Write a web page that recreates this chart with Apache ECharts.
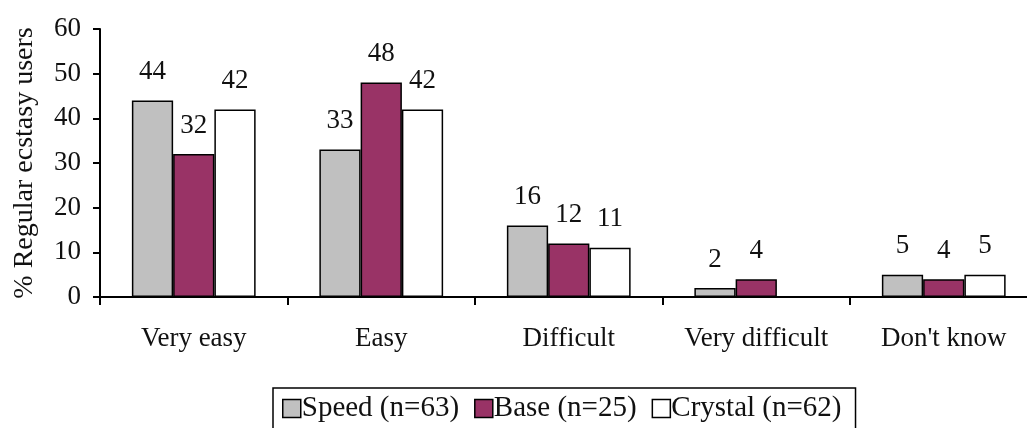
<!DOCTYPE html>
<html><head><meta charset="utf-8">
<script src="https://cdn.jsdelivr.net/npm/echarts@6/dist/echarts.min.js"></script>
<style>html,body{margin:0;padding:0;background:#fff;overflow:hidden}#c{width:1027px;height:428px}</style>
</head><body><div id="c"></div>
<script>
const categories = ["Very easy", "Easy", "Difficult", "Very difficult", "Don't know"];
const speed = [44, 33, 16, 2, 5];
const base = [32, 48, 12, 4, 4];
const crystal = [42, 42, 11, null, 5];
const seriesNames = ["Speed (n=63)", "Base (n=25)", "Crystal (n=62)"];
const FONT = "Liberation Serif";
const FS = 27;
const chart = echarts.init(document.getElementById('c'));
const lbl = {show: true, position: 'top', distance: 15, color: '#111', fontFamily: FONT, fontSize: FS};
const mk = (name, data, color) => ({
  name, type: 'bar', data, barGap: '0%', barCategoryGap: '34%',
  itemStyle: {color, borderColor: '#000', borderWidth: 1.5},
  label: lbl
});
chart.setOption({
  animation: false,
  textStyle: {fontFamily: FONT},
  grid: {left: 100, width: 937.5, top: 29, bottom: 131, outerBoundsMode: 'none', containLabel: false},
  legend: {
    top: 388, left: 273, itemWidth: 18, itemHeight: 18, itemGap: 15,
    borderColor: '#000', borderWidth: 1.5, padding: [6, 14, 14, 9],
    textStyle: {fontFamily: FONT, fontSize: 29, color: '#111', padding: [0, 0, 0, -4]},
    icon: 'rect',
    data: seriesNames.map(n => ({name: n, itemStyle: {borderColor: '#000', borderWidth: 1.5}}))
  },
  xAxis: {
    type: 'category', data: categories,
    axisLine: {lineStyle: {color: '#000', width: 2}},
    axisTick: {show: true, length: 8, lineStyle: {color: '#000', width: 2}},
    axisLabel: {color: '#111', fontFamily: FONT, fontSize: FS, margin: 28}
  },
  yAxis: {
    type: 'value', min: 0, max: 60, interval: 10,
    name: '% Regular ecstasy users', nameLocation: 'middle', nameGap: 61, nameRotate: 90,
    nameTextStyle: {color: '#111', fontFamily: FONT, fontSize: 28},
    axisLine: {show: true, lineStyle: {color: '#000', width: 2}},
    axisTick: {show: true, length: 7, lineStyle: {color: '#000', width: 2}},
    axisLabel: {color: '#111', fontFamily: FONT, fontSize: FS, margin: 19},
    splitLine: {show: false}
  },
  series: [mk(seriesNames[0], speed, '#c0c0c0'), mk(seriesNames[1], base, '#993366'), mk(seriesNames[2], crystal, '#ffffff')]
});
</script></body></html>
